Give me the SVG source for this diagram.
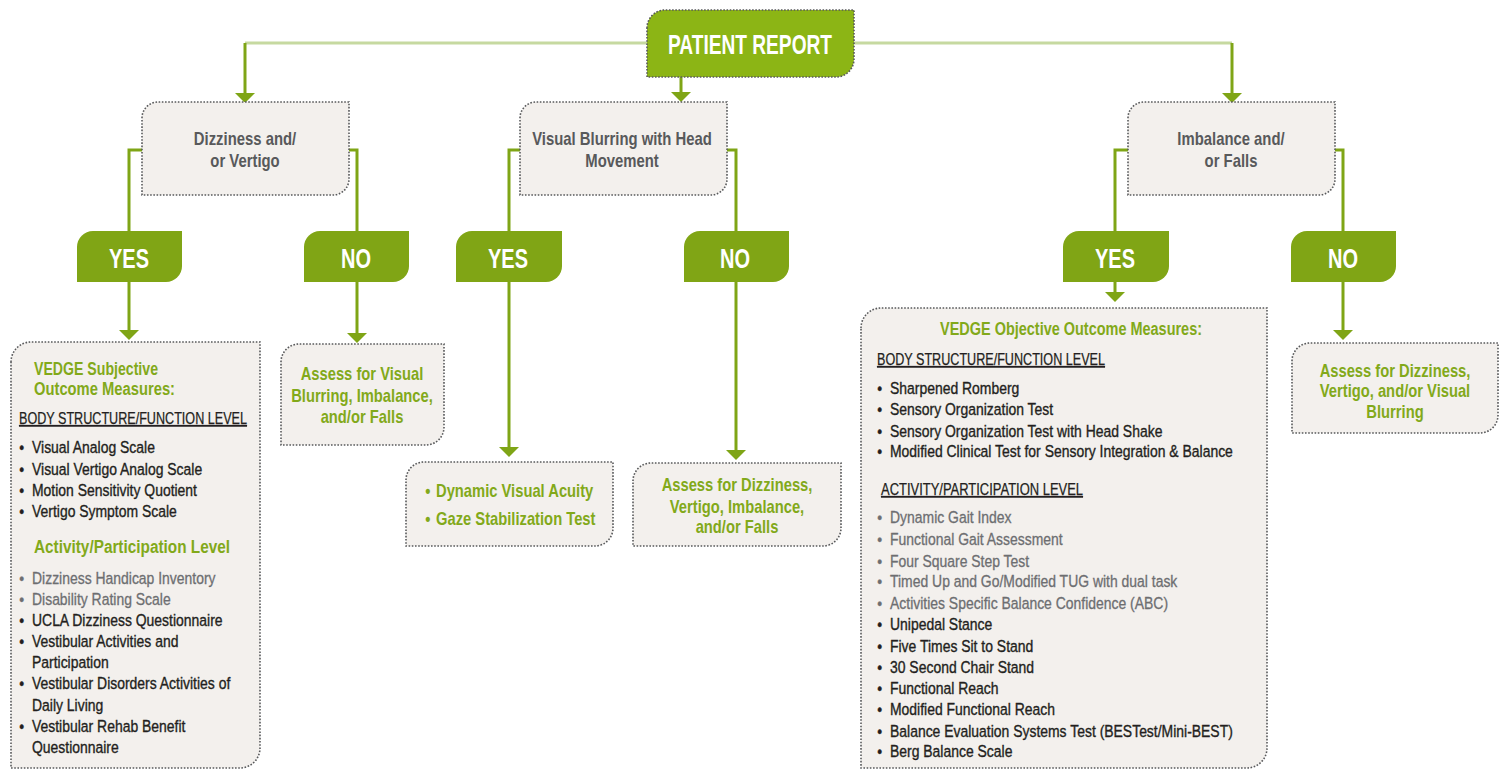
<svg xmlns="http://www.w3.org/2000/svg" width="1504" height="770" viewBox="0 0 1504 770">
  <style>
    text { font-family: "Liberation Sans", Arial, sans-serif; }
    .box { fill: #f3f0ed; stroke: #58595b; stroke-width: 1.6; stroke-dasharray: 1.6 1.6; }
    .start { fill: #8cb515; stroke: #58595b; stroke-width: 1.6; stroke-dasharray: 1.6 1.6; }
    .tag { fill: #80a515; }
    .tagtxt { fill: #ffffff; font-weight: bold; font-size: 28px; text-anchor: middle; }
    .q { fill: #58595b; font-weight: bold; font-size: 18px; text-anchor: middle; }
    .g { fill: #82a91a; font-weight: bold; font-size: 18px; }
    .gc { text-anchor: middle; }
    .h { fill: #82a91a; font-weight: bold; font-size: 18px; }
    .u { fill: #231f20; font-size: 16.5px; text-decoration: underline; stroke: #231f20; stroke-width: 0.25; }
    .k { fill: #231f20; font-size: 16.5px; stroke: #231f20; stroke-width: 0.35; }
    .m { fill: #6d6e71; font-size: 16.5px; stroke: #6d6e71; stroke-width: 0.3; }
    .link { fill: none; stroke: #7fa516; stroke-width: 3; }
    .trunk { fill: none; stroke: #c6d9a0; stroke-width: 3; }
  </style>
  <defs>
    <marker id="arrow" viewBox="0 0 10 20" markerWidth="10" markerHeight="20" refX="2" refY="10" orient="auto" markerUnits="userSpaceOnUse">
      <path d="M0,0 L10,10 L0,20 Z" fill="#7fa516"/>
    </marker>
  </defs>

  <!-- connectors -->
  <g id="connectors">
    <path class="trunk" d="M245,43 H1232"/>
    <path class="link" d="M245,43 V95" marker-end="url(#arrow)"/>
    <path class="link" d="M681,77 V94" marker-end="url(#arrow)"/>
    <path class="link" d="M1232,43 V95" marker-end="url(#arrow)"/>
    <path class="link" d="M142,150 H129 V332" marker-end="url(#arrow)"/>
    <path class="link" d="M349,150 H357 V335" marker-end="url(#arrow)"/>
    <path class="link" d="M520,150 H509 V449" marker-end="url(#arrow)"/>
    <path class="link" d="M727,150 H736 V452" marker-end="url(#arrow)"/>
    <path class="link" d="M1128,150 H1115 V294" marker-end="url(#arrow)"/>
    <path class="link" d="M1335,150 H1343 V332" marker-end="url(#arrow)"/>
  </g>

  <!-- root -->
  <g id="patient-report">
    <path class="start" d="M647,28 A18,18 0 0 1 665,10 H854 V59 A18,18 0 0 1 836,77 H647 Z"/>
    <text class="tagtxt" x="750" y="54" textLength="164" lengthAdjust="spacingAndGlyphs">PATIENT REPORT</text>
  </g>

  <!-- presenting complaints -->
  <g id="dizziness">
    <path class="box" d="M142,118 A16,16 0 0 1 158,102 H349 V179 A16,16 0 0 1 333,195 H142 Z"/>
    <g transform="translate(245,0) scale(0.825,1)">
      <text class="q" x="0" y="145">Dizziness and/</text>
      <text class="q" x="0" y="167">or Vertigo</text>
    </g>
  </g>
  <g id="visual-blurring">
    <path class="box" d="M520,118 A16,16 0 0 1 536,102 H727 V179 A16,16 0 0 1 711,195 H520 Z"/>
    <g transform="translate(622,0) scale(0.825,1)">
      <text class="q" x="0" y="145">Visual Blurring with Head</text>
      <text class="q" x="0" y="167">Movement</text>
    </g>
  </g>
  <g id="imbalance">
    <path class="box" d="M1128,118 A16,16 0 0 1 1144,102 H1335 V179 A16,16 0 0 1 1319,195 H1128 Z"/>
    <g transform="translate(1231,0) scale(0.825,1)">
      <text class="q" x="0" y="145">Imbalance and/</text>
      <text class="q" x="0" y="167">or Falls</text>
    </g>
  </g>

  <!-- yes / no tags -->
  <g id="yes-dizziness">
    <path class="tag" d="M77,247 A16,16 0 0 1 93,231 H182 V266 A16,16 0 0 1 166,282 H77 Z"/>
    <text class="tagtxt" x="129" y="268" textLength="40" lengthAdjust="spacingAndGlyphs">YES</text>
  </g>
  <g id="no-dizziness">
    <path class="tag" d="M304,247 A16,16 0 0 1 320,231 H409 V266 A16,16 0 0 1 393,282 H304 Z"/>
    <text class="tagtxt" x="356" y="268" textLength="30" lengthAdjust="spacingAndGlyphs">NO</text>
  </g>
  <g id="yes-blurring">
    <path class="tag" d="M456,247 A16,16 0 0 1 472,231 H562 V266 A16,16 0 0 1 546,282 H456 Z"/>
    <text class="tagtxt" x="508" y="268" textLength="40" lengthAdjust="spacingAndGlyphs">YES</text>
  </g>
  <g id="no-blurring">
    <path class="tag" d="M684,247 A16,16 0 0 1 700,231 H789 V266 A16,16 0 0 1 773,282 H684 Z"/>
    <text class="tagtxt" x="735" y="268" textLength="30" lengthAdjust="spacingAndGlyphs">NO</text>
  </g>
  <g id="yes-imbalance">
    <path class="tag" d="M1063,247 A16,16 0 0 1 1079,231 H1169 V266 A16,16 0 0 1 1153,282 H1063 Z"/>
    <text class="tagtxt" x="1115" y="268" textLength="40" lengthAdjust="spacingAndGlyphs">YES</text>
  </g>
  <g id="no-imbalance">
    <path class="tag" d="M1291,247 A16,16 0 0 1 1307,231 H1396 V266 A16,16 0 0 1 1380,282 H1291 Z"/>
    <text class="tagtxt" x="1343" y="268" textLength="30" lengthAdjust="spacingAndGlyphs">NO</text>
  </g>

  <!-- outcomes -->
  <g id="subjective-measures">
    <path class="box" d="M11,362 A20,20 0 0 1 31,342 H260 V748 A20,20 0 0 1 240,768 H11 Z"/>
    <text class="h" x="34" y="375" textLength="124" lengthAdjust="spacingAndGlyphs">VEDGE Subjective</text>
    <text class="h" x="34" y="395" textLength="141" lengthAdjust="spacingAndGlyphs">Outcome Measures:</text>
    <text class="u" x="19" y="424" textLength="228" lengthAdjust="spacingAndGlyphs">BODY STRUCTURE/FUNCTION LEVEL</text>
    <text class="h" x="34" y="553" textLength="196" lengthAdjust="spacingAndGlyphs">Activity/Participation Level</text>
    <g transform="translate(32,0) scale(0.845,1)">
      <text class="k" x="-15" y="453">•<tspan x="0">Visual Analog Scale</tspan></text>
      <text class="k" x="-15" y="475">•<tspan x="0">Visual Vertigo Analog Scale</tspan></text>
      <text class="k" x="-15" y="496">•<tspan x="0">Motion Sensitivity Quotient</tspan></text>
      <text class="k" x="-15" y="517">•<tspan x="0">Vertigo Symptom Scale</tspan></text>
      <text class="m" x="-15" y="584">•<tspan x="0">Dizziness Handicap Inventory</tspan></text>
      <text class="m" x="-15" y="605">•<tspan x="0">Disability Rating Scale</tspan></text>
      <text class="k" x="-15" y="626">•<tspan x="0">UCLA Dizziness Questionnaire</tspan></text>
      <text class="k" x="-15" y="647">•<tspan x="0">Vestibular Activities and</tspan></text>
      <text class="k" x="0" y="668">Participation</text>
      <text class="k" x="-15" y="689">•<tspan x="0">Vestibular Disorders Activities of</tspan></text>
      <text class="k" x="0" y="711">Daily Living</text>
      <text class="k" x="-15" y="732">•<tspan x="0">Vestibular Rehab Benefit</tspan></text>
      <text class="k" x="0" y="753">Questionnaire</text>
    </g>
  </g>
  <g id="assess-visual">
    <path class="box" d="M281,362 A18,18 0 0 1 299,344 H444 V427 A18,18 0 0 1 426,445 H281 Z"/>
    <g transform="translate(362,0) scale(0.82,1)">
      <text class="g gc" x="0" y="380">Assess for Visual</text>
      <text class="g gc" x="0" y="402">Blurring, Imbalance,</text>
      <text class="g gc" x="0" y="423">and/or Falls</text>
    </g>
  </g>
  <g id="visual-tests">
    <path class="box" d="M406,480 A18,18 0 0 1 424,462 H613 V528 A18,18 0 0 1 595,546 H406 Z"/>
    <g transform="translate(436,0) scale(0.82,1)">
      <text class="g" x="-13" y="497">•<tspan x="0">Dynamic Visual Acuity</tspan></text>
      <text class="g" x="-13" y="525">•<tspan x="0">Gaze Stabilization Test</tspan></text>
    </g>
  </g>
  <g id="assess-dizziness-imbalance">
    <path class="box" d="M633,481 A18,18 0 0 1 651,463 H841 V528 A18,18 0 0 1 823,546 H633 Z"/>
    <g transform="translate(737,0) scale(0.82,1)">
      <text class="g gc" x="0" y="491">Assess for Dizziness,</text>
      <text class="g gc" x="0" y="513">Vertigo, Imbalance,</text>
      <text class="g gc" x="0" y="533">and/or Falls</text>
    </g>
  </g>
  <g id="objective-measures">
    <path class="box" d="M861,328 A20,20 0 0 1 881,308 H1267 V748 A20,20 0 0 1 1247,768 H861 Z"/>
    <text class="h" x="940" y="335" textLength="262" lengthAdjust="spacingAndGlyphs">VEDGE Objective Outcome Measures:</text>
    <text class="u" x="877" y="365" textLength="228" lengthAdjust="spacingAndGlyphs">BODY STRUCTURE/FUNCTION LEVEL</text>
    <text class="u" x="881" y="495" textLength="202" lengthAdjust="spacingAndGlyphs">ACTIVITY/PARTICIPATION LEVEL</text>
    <g transform="translate(890,0) scale(0.845,1)">
      <text class="k" x="-15" y="394">•<tspan x="0">Sharpened Romberg</tspan></text>
      <text class="k" x="-15" y="415">•<tspan x="0">Sensory Organization Test</tspan></text>
      <text class="k" x="-15" y="437">•<tspan x="0">Sensory Organization Test with Head Shake</tspan></text>
      <text class="k" x="-15" y="457">•<tspan x="0">Modified Clinical Test for Sensory Integration &amp; Balance</tspan></text>
      <text class="m" x="-15" y="523">•<tspan x="0">Dynamic Gait Index</tspan></text>
      <text class="m" x="-15" y="545">•<tspan x="0">Functional Gait Assessment</tspan></text>
      <text class="m" x="-15" y="567">•<tspan x="0">Four Square Step Test</tspan></text>
      <text class="m" x="-15" y="587">•<tspan x="0">Timed Up and Go/Modified TUG with dual task</tspan></text>
      <text class="m" x="-15" y="609">•<tspan x="0">Activities Specific Balance Confidence (ABC)</tspan></text>
      <text class="k" x="-15" y="630">•<tspan x="0">Unipedal Stance</tspan></text>
      <text class="k" x="-15" y="652">•<tspan x="0">Five Times Sit to Stand</tspan></text>
      <text class="k" x="-15" y="673">•<tspan x="0">30 Second Chair Stand</tspan></text>
      <text class="k" x="-15" y="694">•<tspan x="0">Functional Reach</tspan></text>
      <text class="k" x="-15" y="715">•<tspan x="0">Modified Functional Reach</tspan></text>
      <text class="k" x="-15" y="737">•<tspan x="0">Balance Evaluation Systems Test (BESTest/Mini-BEST)</tspan></text>
      <text class="k" x="-15" y="757">•<tspan x="0">Berg Balance Scale</tspan></text>
    </g>
  </g>
  <g id="assess-dizziness-visual">
    <path class="box" d="M1292,361 A18,18 0 0 1 1310,343 H1498 V415 A18,18 0 0 1 1480,433 H1292 Z"/>
    <g transform="translate(1395,0) scale(0.82,1)">
      <text class="g gc" x="0" y="377">Assess for Dizziness,</text>
      <text class="g gc" x="0" y="397">Vertigo, and/or Visual</text>
      <text class="g gc" x="0" y="418">Blurring</text>
    </g>
  </g>
</svg>
